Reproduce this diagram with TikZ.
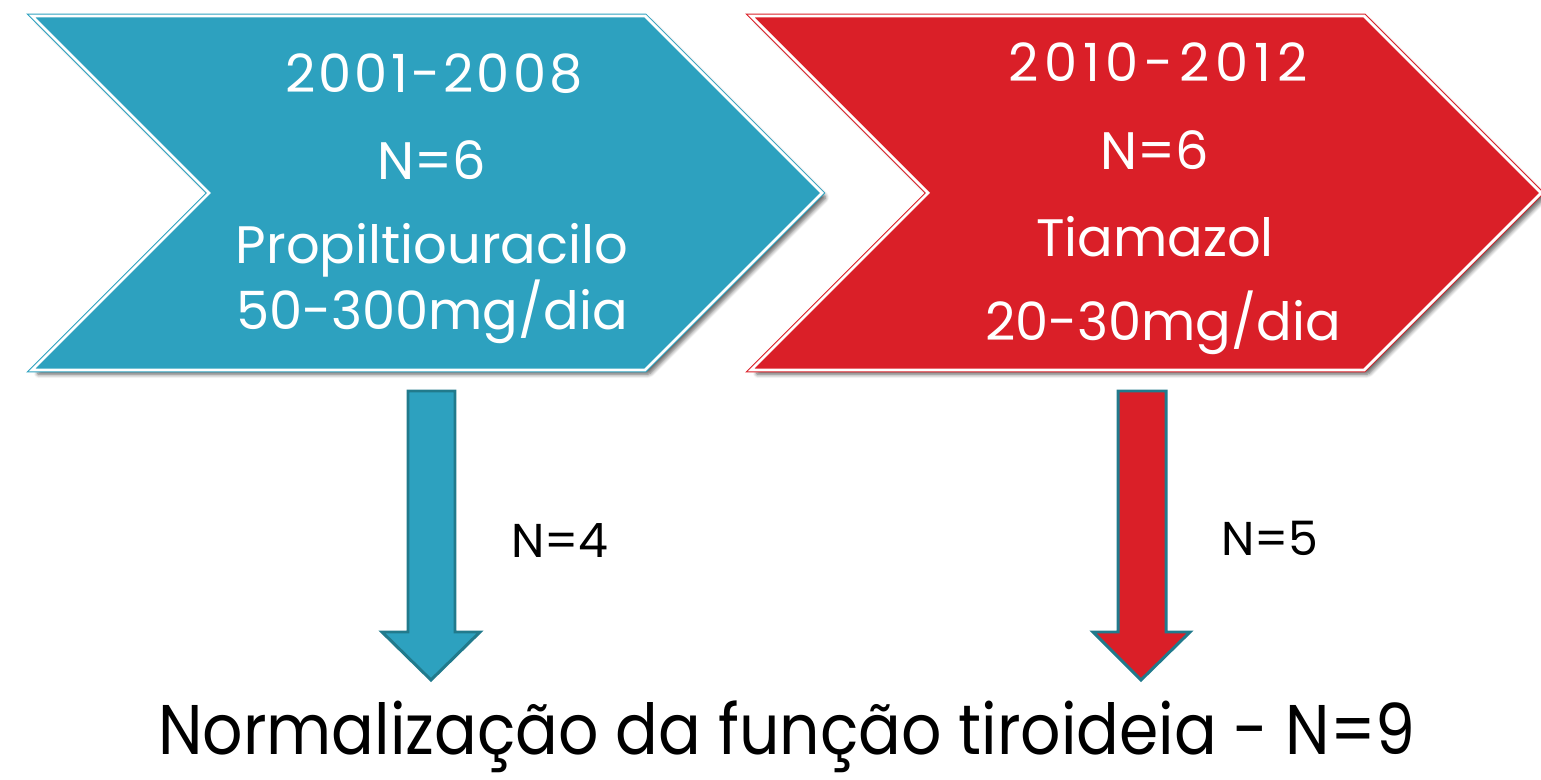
\documentclass[tikz,border=0pt]{standalone}
\usepackage{fontspec}
\setmainfont{Poppins}
\newfontfamily\anosA[LetterSpace=6]{Poppins}
\newfontfamily\anosB[LetterSpace=11]{Poppins}
\newfontfamily\estreita[FakeStretch=0.9]{Poppins}
\usetikzlibrary{shadows.blur}
\definecolor{azul}{HTML}{2DA1BF}
\definecolor{vermelho}{HTML}{DA1F28}
\definecolor{contorno}{HTML}{217A8C}
\tikzstyle{fase} = [line width=0.6pt, double=white, double distance=1.6pt,
blur shadow={shadow xshift=2.5pt, shadow yshift=-2.5pt, shadow blur steps=6, shadow blur extra rounding=1pt, shadow opacity=60}]
\tikzstyle{seta} = [draw=contorno, line width=1.7pt, line join=miter]
\tikzstyle{texto} = [text=white, font=\fontsize{30}{36}\selectfont, inner sep=0pt]
\tikzstyle{numero} = [font=\fontsize{27}{32}\selectfont, inner sep=0pt, anchor=base]

\begin{document}
\begin{tikzpicture}[x=0.02cm, y=-0.02cm]
						\useasboundingbox (0,0) rectangle (1541,780);
						% fases
						\draw[fase, fill=azul, draw=azul] (32,16) -- (645,16) -- (822,193) -- (645,370) -- (32,370) -- (209,193) -- cycle;
						\draw[fase, fill=vermelho, draw=vermelho] (751,16) -- (1364,16) -- (1541,193) -- (1364,370) -- (751,370) -- (928,193) -- cycle;
						\node (ano1) at (434,74) [texto] {\anosA 2001-2008};
						\node (n1) at (432,160) [texto] {N=6};
						\node (farmaco1) at (432,250) [texto] {Propiltiouracilo};
						\node (dose1) at (432,312) [texto] {50-300mg/dia};
						\node (ano2) at (1158,62) [texto] {\anosB 2010-2012};
						\node (n2) at (1155,150) [texto] {N=6};
						\node (farmaco2) at (1155,237) [texto] {Tiamazol};
						\node (dose2) at (1163,323) [texto] {20-30mg/dia};
						% setas
						\draw[seta, fill=azul] (408,391) -- (455,391) -- (455,632) -- (480,632) -- (431,680) -- (382,632) -- (408,632) -- cycle;
						\draw[seta, fill=vermelho] (1118,391) -- (1166,391) -- (1166,632) -- (1190,632) -- (1141,680) -- (1093,632) -- (1118,632) -- cycle;
						\node (r1) at (560,557) [numero] {N=4};
						\node (r2) at (1270,555) [numero] {N=5};
						\node (final) at (787,754) [inner sep=0pt, anchor=base, font=\estreita\fontsize{40}{48}\selectfont] {Normalização da função tiroideia - N=9};
					\end{tikzpicture}
\end{document}
